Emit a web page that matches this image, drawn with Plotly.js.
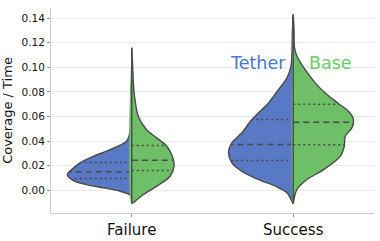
<!DOCTYPE html>
<html>
<head>
<meta charset="utf-8">
<script src="https://cdn.plot.ly/plotly-3.0.1.min.js"></script>
<style>html,body{margin:0;padding:0;background:#fff;}#chart{width:380px;height:241px;}</style>
</head>
<body>
<div id="chart"></div>
<script>
// Categories and series
const categories = ["Failure", "Success"];
const seriesNames = ["Tether", "Base"];

// Density half-profiles (y value, half width in category units)
// Failure - Tether (left half)
const failTetherY = [-0.0040, -0.0035, -0.0008, 0.0020, 0.0046, 0.0079, 0.0128, 0.0168, 0.0223, 0.0276, 0.0330, 0.0400, 0.0470, 0.0600, 0.0800, 0.0900];
const failTetherW = [0.000, 0.011, 0.072, 0.176, 0.279, 0.362, 0.399, 0.372, 0.320, 0.238, 0.134, 0.031, 0.012, 0.008, 0.006, 0.000];
// Failure - Base (right half)
const failBaseY = [-0.0108, -0.0090, -0.0035, 0.0033, 0.0114, 0.0195, 0.0280, 0.0358, 0.0426, 0.0490, 0.0600, 0.0737, 0.0870, 0.1000, 0.1158];
const failBaseW = [0.000, 0.020, 0.072, 0.155, 0.237, 0.262, 0.250, 0.217, 0.155, 0.093, 0.041, 0.020, 0.010, 0.006, 0.000];
// Success - Tether (left half)
const succTetherY = [-0.0108, -0.0090, -0.0020, 0.0033, 0.0087, 0.0154, 0.0223, 0.0304, 0.0385, 0.0467, 0.0575, 0.0630, 0.0710, 0.0819, 0.0914, 0.1008, 0.1117, 0.1300, 0.1428];
const succTetherW = [0.000, 0.008, 0.039, 0.111, 0.215, 0.318, 0.380, 0.401, 0.380, 0.318, 0.256, 0.215, 0.153, 0.091, 0.039, 0.014, 0.008, 0.005, 0.000];
// Success - Base (right half)
const succBaseY = [-0.0108, 0.0006, 0.0087, 0.0168, 0.0276, 0.0358, 0.0439, 0.0507, 0.0575, 0.0642, 0.0710, 0.0790, 0.0873, 0.0980, 0.1090, 0.1158, 0.1300, 0.1428];
const succBaseW = [0.000, 0.023, 0.085, 0.188, 0.291, 0.316, 0.322, 0.363, 0.373, 0.342, 0.275, 0.198, 0.136, 0.074, 0.023, 0.008, 0.005, 0.000];

// Quartiles [q1, median, q3]
const failTetherQ = [0.0095, 0.0150, 0.0226];
const failBaseQ = [0.0160, 0.0244, 0.0363];
const succTetherQ = [0.0241, 0.0372, 0.0575];
const succBaseQ = [0.0369, 0.0553, 0.0700];

const fillColors = {Tether: "#5979c6", Base: "#6fbf69"};
const textColors = {Tether: "#4878d0", Base: "#6acc64"};
const edge = "#4a4a4a";

function interp(ys, ws, y) {
  for (let i = 0; i < ys.length - 1; i++) {
    if (y >= ys[i] && y <= ys[i + 1]) {
      const t = (y - ys[i]) / (ys[i + 1] - ys[i]);
      return ws[i] + t * (ws[i + 1] - ws[i]);
    }
  }
  return 0;
}

const halves = [
  {cat: 0, name: "Tether", side: -1, y: failTetherY, w: failTetherW, q: failTetherQ},
  {cat: 0, name: "Base", side: 1, y: failBaseY, w: failBaseW, q: failBaseQ},
  {cat: 1, name: "Tether", side: -1, y: succTetherY, w: succTetherW, q: succTetherQ},
  {cat: 1, name: "Base", side: 1, y: succBaseY, w: succBaseW, q: succBaseQ}
];

const traces = [];
halves.forEach(h => {
  const xs = [], ys = [];
  for (let i = 0; i < h.y.length; i++) { xs.push(h.cat + h.side * h.w[i]); ys.push(h.y[i]); }
  // filled smooth outline, closed back along the centre
  traces.push({type: "scatter", mode: "lines", x: xs.concat([h.cat]), y: ys.concat([h.y[0]]), fill: "toself",
    fillcolor: fillColors[h.name], line: {color: edge, width: 0, shape: "spline", smoothing: 0.9},
    hoverinfo: "skip", showlegend: false});
  traces.push({type: "scatter", mode: "lines", x: xs, y: ys,
    line: {color: edge, width: 1.4, shape: "spline", smoothing: 0.9}, hoverinfo: "skip", showlegend: false});
  traces.push({type: "scatter", mode: "lines", x: [h.cat, h.cat], y: [h.y[0], h.y[h.y.length - 1]],
    line: {color: edge, width: 1.4}, hoverinfo: "skip", showlegend: false});
  h.q.forEach((qv, k) => {
    const wq = interp(h.y, h.w, qv);
    traces.push({type: "scatter", mode: "lines", x: [h.cat, h.cat + h.side * wq], y: [qv, qv],
      line: {color: edge, width: 1.5, dash: k === 1 ? "6px,4px" : "2px,3px"}, hoverinfo: "skip", showlegend: false});
  });
});

const layout = {
  width: 380, height: 241,
  margin: {l: 51, r: 6, t: 8, b: 28},
  paper_bgcolor: "#fff", plot_bgcolor: "#fff",
  font: {family: "DejaVu Sans", color: "#222"},
  xaxis: {range: [-0.5, 1.5], tickvals: [0, 1], ticktext: categories, showgrid: false, zeroline: false,
    showline: true, linecolor: "#cccccc", linewidth: 1, ticks: "outside", ticklen: 3, tickcolor: "#999",
    tickfont: {size: 15, color: "#111"}},
  yaxis: {range: [-0.0185, 0.1482], tickvals: [0, 0.02, 0.04, 0.06, 0.08, 0.1, 0.12, 0.14],
    tickformat: ".2f", showgrid: true, gridcolor: "#ebebeb", gridwidth: 1, zeroline: false,
    showline: true, linecolor: "#cccccc", linewidth: 1, ticks: "outside", ticklen: 3, tickcolor: "#999",
    tickfont: {size: 10.5, color: "#111"},
    title: {text: "Coverage / Time", font: {size: 13, color: "#111"}, standoff: 5}},
  annotations: [
    {x: 0.779, y: 0.1035, xref: "x", yref: "y", text: seriesNames[0], showarrow: false,
      font: {size: 17.5, color: textColors.Tether}},
    {x: 1.228, y: 0.1035, xref: "x", yref: "y", text: seriesNames[1], showarrow: false,
      font: {size: 17.5, color: textColors.Base}}
  ]
};

Plotly.newPlot("chart", traces, layout, {displayModeBar: false, staticPlot: true});
</script>
</body>
</html>
